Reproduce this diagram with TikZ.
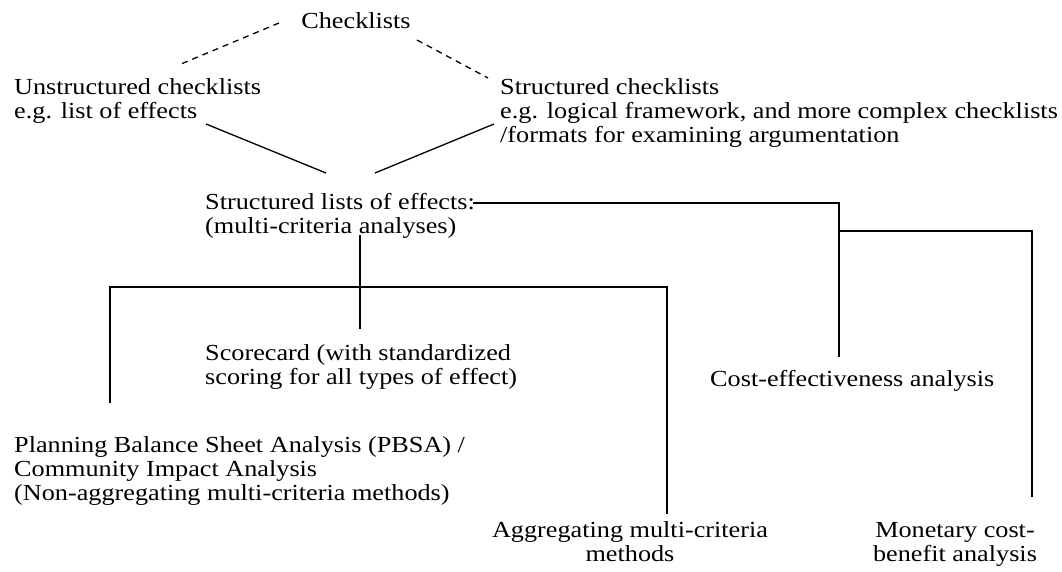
\documentclass[tikz,border=0pt]{standalone}
\usepackage{fontspec}
\setmainfont{Liberation Serif}[FakeStretch=1.14]
\usetikzlibrary{positioning,calc}

\begin{document}
\begin{tikzpicture}[
        x=1pt, y=-1pt,
        every node/.style={font=\fontsize{23}{24}\selectfont, inner sep=0pt},
        lbl/.style={anchor=base west, align=left},
        clbl/.style={anchor=base, align=center},
        link/.style={line width=1.3pt},
        dashlink/.style={line width=1.3pt, dash pattern=on 6pt off 5pt}
    ]
        \useasboundingbox (0,0) rectangle (1062,571);

        % Top: checklists
        \node[clbl] (chk) at (356,28) {Checklists};
        \node[lbl] (unstr) at (14,118) {Unstructured checklists\\e.g. list of effects};
        \node[lbl] (str) at (500,142) {Structured checklists\\e.g. logical framework, and more complex checklists\\/formats for examining argumentation};

        % Middle: lists of effects
        \node[lbl] (lists) at (205,233) {Structured lists of effects:\\(multi-criteria analyses)};

        % Bottom: methods
        \node[lbl] (score) at (205,384) {Scorecard (with standardized\\scoring for all types of effect)};
        \node[lbl] (costeff) at (710,386) {Cost-effectiveness analysis};
        \node[lbl] (pbsa) at (14,500) {Planning Balance Sheet Analysis (PBSA) /\\Community Impact Analysis\\(Non-aggregating multi-criteria methods)};
        \node[clbl] (aggr) at (630,561) {Aggregating multi-criteria\\methods};
        \node[clbl] (cba) at (955,561) {Monetary cost-\\benefit analysis};

        % Junctions
        \coordinate (chkL) at (279,23);
        \coordinate (chkR) at (417,40);
        \coordinate (unstrE) at (181,64);
        \coordinate (strW) at (488,78);
        \coordinate (vL) at (326,173);
        \coordinate (vR) at (375,173);
        \coordinate (unstrB) at (206,124);
        \coordinate (strB) at (494,124);
        \coordinate (listsE) at (473,203);
        \coordinate (listsB) at (360,235);
        \coordinate (split) at (360,287);
        \coordinate (mcaL) at (110,287);
        \coordinate (mcaR) at (667,287);
        \coordinate (costT) at (839,203);
        \coordinate (cbaT) at (1032,231);

        % Dashed links
        \draw[dashlink] (chkL) -- (unstrE);
        \draw[dashlink] (chkR) -- (strW);

        % Solid links
        \draw[link] (unstrB) -- (vL);
        \draw[link] (strB) -- (vR);
        \draw[link] (listsE) -- (costT) -- (costT |- 0,357);
        \draw[link] (costT |- cbaT) -- (cbaT) -- (cbaT |- 0,497);
        \draw[link] (listsB) -- (listsB |- 0,329);
        \draw[link] (mcaL |- 0,403) -- (mcaL) -- (mcaR) -- (mcaR |- 0,514);
    \end{tikzpicture}
\end{document}
